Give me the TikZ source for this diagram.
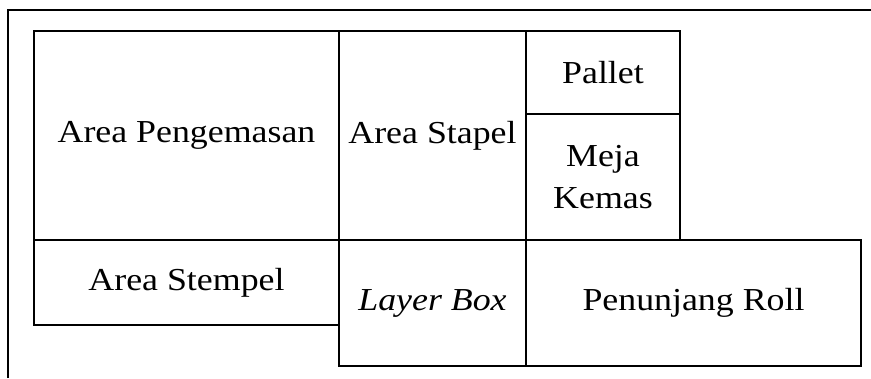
\documentclass[tikz,border=0pt]{standalone}
\usepackage{fontspec}
\setmainfont{Liberation Serif}[FakeStretch=1.12]
\begin{document}
\begin{tikzpicture}[x=1pt,y=-1pt,
  area/.style={draw=black, line width=2.5pt, rectangle, inner sep=0pt, outer sep=0pt, align=center, font=\fontsize{32}{42}\selectfont}]
\useasboundingbox (0,0) rectangle (871,378);
\draw[line width=2.5pt] (8,378) -- (8,10) -- (871,10);
\node[area, minimum width=305pt, minimum height=209pt] (peng) at (186.5,135.5) {Area Pengemasan};
\node[area, minimum width=187pt, minimum height=209pt] (stapel) at (432.5,135.5) {Area Stapel};
\node[area, minimum width=154pt, minimum height=83pt] (pallet) at (603,72.5) {Pallet};
\node[area, minimum width=154pt, minimum height=126pt] (meja) at (603,177) {Meja\\Kemas};
\node[area, minimum width=305pt, minimum height=85pt] (stempel) at (186.5,282.5) {Area Stempel};
\node[area, minimum width=187pt, minimum height=126pt] (layer) at (432.5,303) {\itshape Layer Box};
\node[area, minimum width=335pt, minimum height=126pt] (roll) at (693.5,303) {Penunjang Roll};
\end{tikzpicture}
\end{document}
